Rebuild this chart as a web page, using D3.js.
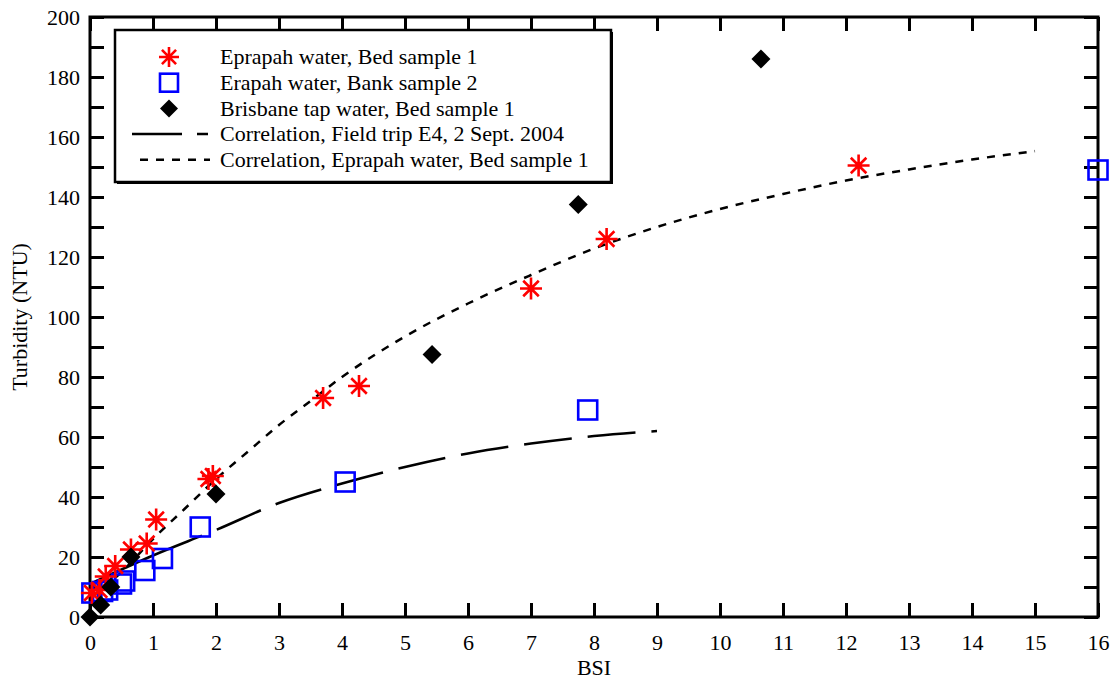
<!doctype html>
<html lang="en">
<head>
    <meta charset="UTF-8">
    <title>Turbidity vs BSI</title>
    <style>
        body { margin: 0; background: #fff; }
        svg text { font-family: "Liberation Serif", "Times New Roman", serif !important; fill: #000; }
        .frame { fill: none; stroke: #000; stroke-width: 3px; }
        .tick line { stroke: #000; stroke-width: 3px; }
    </style>
</head>
<body>
    <svg width="1116" height="679"></svg>

    <script src="https://d3js.org/d3.v7.min.js"></script>
    <script>
        // Data
        const bedX = [0.03, 0.15, 0.25, 0.4, 0.65, 0.9, 1.05, 1.88, 1.95, 3.7, 4.27, 7.0, 8.2, 12.2];
        const bedY = [8, 9, 13.5, 17, 22.5, 24.5, 32.5, 46, 47, 73, 77, 109.5, 126, 150.5];

        const bankX = [0.03, 0.2, 0.28, 0.5, 0.55, 0.87, 1.15, 1.75, 4.05, 7.9, 16];
        const bankY = [8, 8.5, 9, 11, 12, 15.5, 19.5, 30, 45, 69, 149];

        const tapX = [0, 0.17, 0.33, 0.65, 2.0, 5.43, 7.75, 10.65];
        const tapY = [0, 4, 10, 20, 41, 87.5, 137.5, 186];

        // correlation curves
        const fieldX = [0, 1, 2, 3, 4, 5, 6, 7, 8, 9];
        const fieldY = [11, 20.5, 29, 38, 44.5, 50, 54.5, 57.8, 60.3, 62];

        const corrX = [0, 0.5, 1, 1.5, 2, 2.5, 3, 3.5, 4, 5, 6, 7, 8, 9, 10, 11, 12, 13, 14, 15];
        const corrY = [6, 15, 26, 36, 46, 55, 64, 72, 80, 93.5, 104.5, 114, 122.8, 130, 136, 141, 145.5, 149.2, 152.5, 155.3];

        const legendLabels = [
            "Eprapah water, Bed sample 1",
            "Erapah water, Bank sample 2",
            "Brisbane tap water, Bed sample 1",
            "Correlation, Field trip E4, 2 Sept. 2004",
            "Correlation, Eprapah water, Bed sample 1"
        ];

        const svg = d3.select("svg");
        const pLeft = 90, pRight = 1098, pTop = 17, pBottom = 617;
        const fs = 22;

        const x = d3.scaleLinear().domain([0, 16]).range([pLeft, pRight]);
        const y = d3.scaleLinear().domain([0, 200]).range([pBottom, pTop]);

        // axes with inward ticks on all sides
        const xTicks = d3.range(0, 17, 1);
        const yTicks = d3.range(0, 201, 10);

        svg.append("g").attr("transform", `translate(0,${pBottom})`)
            .call(d3.axisBottom(x).tickValues(xTicks).tickSizeInner(-14).tickSizeOuter(0).tickPadding(17))
            .call(g => g.select(".domain").remove())
            .call(g => g.selectAll("text").attr("font-size", fs));
        svg.append("g").attr("transform", `translate(0,${pTop})`)
            .call(d3.axisTop(x).tickValues(xTicks).tickSizeInner(-14).tickSizeOuter(0).tickFormat(""))
            .call(g => g.select(".domain").remove());
        svg.append("g").attr("transform", `translate(${pLeft},0)`)
            .call(d3.axisLeft(y).tickValues(yTicks).tickSizeInner(-14).tickSizeOuter(0).tickPadding(10)
                .tickFormat(d => d % 20 === 0 ? d : ""))
            .call(g => g.select(".domain").remove())
            .call(g => g.selectAll("text").attr("font-size", fs));
        svg.append("g").attr("transform", `translate(${pRight},0)`)
            .call(d3.axisRight(y).tickValues(yTicks).tickSizeInner(-14).tickSizeOuter(0).tickFormat(""))
            .call(g => g.select(".domain").remove());

        svg.append("rect").attr("class", "frame")
            .attr("x", pLeft).attr("y", pTop)
            .attr("width", pRight - pLeft).attr("height", pBottom - pTop);

        // axis titles
        svg.append("text").attr("x", (pLeft + pRight) / 2).attr("y", 675)
            .attr("text-anchor", "middle").attr("font-size", fs).text("BSI");
        svg.append("text")
            .attr("transform", `translate(27,${(pTop + pBottom) / 2}) rotate(-90)`)
            .attr("text-anchor", "middle").attr("font-size", fs).text("Turbidity (NTU)");

        // correlation lines
        const line = d3.line().curve(d3.curveMonotoneX);
        svg.append("path")
            .attr("d", line(fieldX.map((d, i) => [x(d), y(fieldY[i])])))
            .attr("fill", "none").attr("stroke", "#000").attr("stroke-width", 2.5)
            .attr("stroke-dasharray", "122,16,48,16,48,16,48,16,48,16,48,16,48,16,48,16,48,16,48,16");
        svg.append("path")
            .attr("d", line(corrX.map((d, i) => [x(d), y(corrY[i])])))
            .attr("fill", "none").attr("stroke", "#000").attr("stroke-width", 2.5)
            .attr("stroke-dasharray", "8,8");

        // marker helpers
        function asterisk(g, cx, cy, r) {
            const a = r * Math.SQRT1_2;
            g.append("path")
                .attr("d", `M${cx - r},${cy}L${cx + r},${cy}M${cx},${cy - r}L${cx},${cy + r}` +
                    `M${cx - a},${cy - a}L${cx + a},${cy + a}M${cx - a},${cy + a}L${cx + a},${cy - a}`)
                .attr("stroke", "#ff0000").attr("stroke-width", 2.6).attr("fill", "none");
        }
        function square(g, cx, cy, s) {
            g.append("rect").attr("x", cx - s / 2).attr("y", cy - s / 2)
                .attr("width", s).attr("height", s)
                .attr("fill", "none").attr("stroke", "#0000ff").attr("stroke-width", 2.6);
        }
        function diamond(g, cx, cy, r) {
            g.append("path")
                .attr("d", `M${cx},${cy - r}L${cx + r},${cy}L${cx},${cy + r}L${cx - r},${cy}Z`)
                .attr("fill", "#000");
        }

        const marks = svg.append("g");
        bankX.forEach((d, i) => square(marks, x(d), y(bankY[i]), 19));
        bedX.forEach((d, i) => asterisk(marks, x(d), y(bedY[i]), 11));
        tapX.forEach((d, i) => diamond(marks, x(d), y(tapY[i]), 9.5));

        // legend
        const lg = svg.append("g");
        lg.append("rect").attr("x", 117).attr("y", 32).attr("width", 496).attr("height", 152).attr("fill", "#000");
        lg.append("rect").attr("x", 115).attr("y", 30).attr("width", 496).attr("height", 152)
            .attr("fill", "#fff").attr("stroke", "#000").attr("stroke-width", 2.5);

        const rowY = d3.range(5).map(i => 57 + i * 25.7);
        legendLabels.forEach((t, i) => {
            lg.append("text").attr("x", 220).attr("y", rowY[i]).attr("dy", "0.33em")
                .attr("font-size", fs).text(t);
        });
        asterisk(lg, 169, rowY[0], 10);
        square(lg, 169, rowY[1], 18);
        diamond(lg, 169, rowY[2], 9);
        lg.append("path").attr("d", `M132,${rowY[3]}L208,${rowY[3]}`)
            .attr("stroke", "#000").attr("stroke-width", 2.5).attr("stroke-dasharray", "50,15,11,20");
        lg.append("path").attr("d", `M140,${rowY[4]}L210,${rowY[4]}`)
            .attr("stroke", "#000").attr("stroke-width", 2.5).attr("stroke-dasharray", "8,8");
    </script>
</body>
</html>
